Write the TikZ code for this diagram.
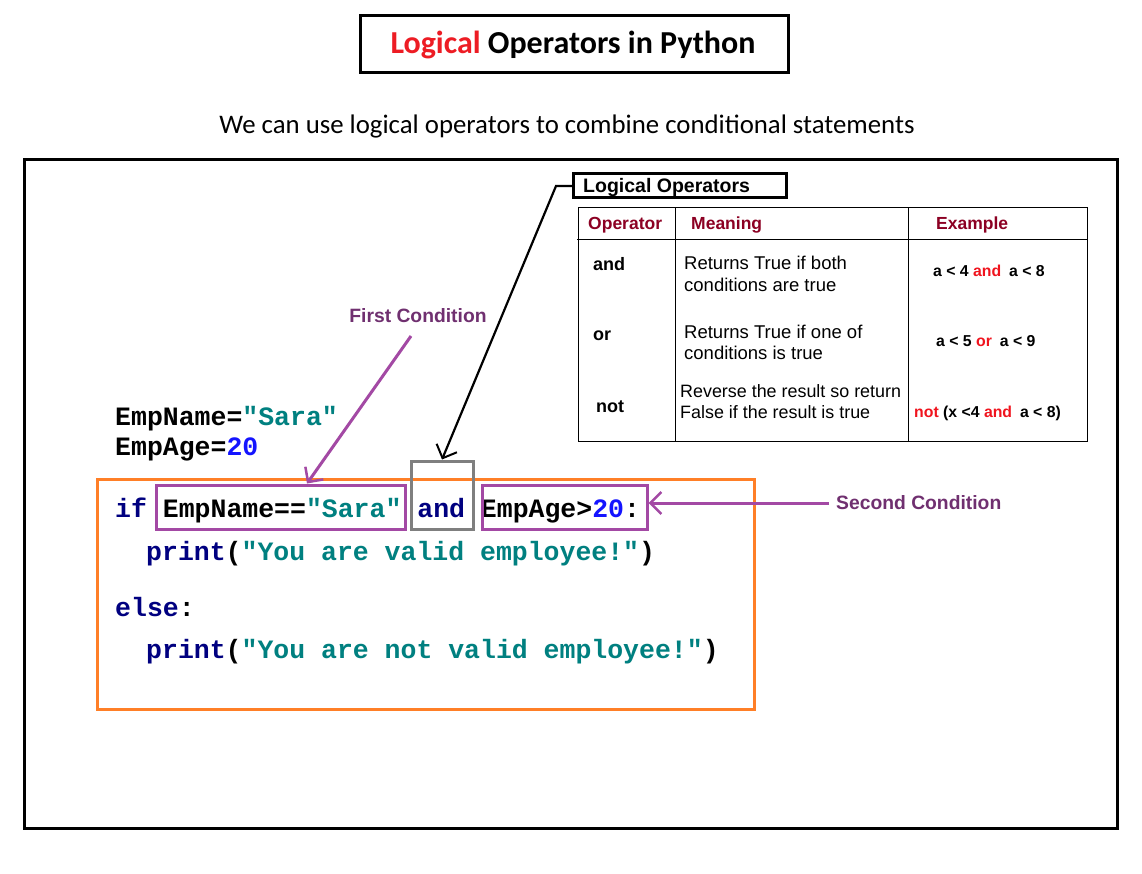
\documentclass[tikz,border=0pt]{standalone}
\usepackage{fontspec}
\setmainfont{Liberation Sans}
\newfontfamily\calibri{Carlito}
\newfontfamily\codefont{Liberation Mono}
\usetikzlibrary{arrows.meta}
\newcommand\fsz[1]{\fontsize{#1}{#1}\selectfont}
\definecolor{titlered}{RGB}{237,28,36}
\definecolor{tred}{RGB}{240,20,30}
\definecolor{hdrred}{RGB}{140,0,35}
\definecolor{purp}{RGB}{163,73,164}
\definecolor{purptext}{RGB}{112,48,112}
\definecolor{orng}{RGB}{255,127,39}
\definecolor{grayb}{RGB}{127,127,127}
\definecolor{navy}{RGB}{0,0,128}
\definecolor{tealc}{RGB}{0,128,128}
\definecolor{numblue}{RGB}{20,20,255}
\begin{document}
\begin{tikzpicture}[x=1pt,y=-1pt,
  txt/.style={inner sep=0pt, anchor=base west},
  code/.style={txt, font=\codefont\bfseries\fsz{26.5}},
  hdr/.style={txt, font=\bfseries\fsz{17.5}, text=hdrred},
  op/.style={txt, font=\bfseries\fsz{18}},
  mean/.style={txt, font=\fsz{18.5}},
  meansm/.style={txt, font=\fsz{17.9}},
  ex/.style={txt, font=\bfseries\fsz{15.8}},
  lbl/.style={inner sep=0pt, font=\bfseries\fsz{19.3}, text=purptext},
  cbox/.style={draw=purp, line width=3pt, inner sep=0pt},
  parr/.style={draw=purp, line width=3pt, -{Straight Barb[length=11pt,width=22pt,line width=2.5pt]}},
]
\useasboundingbox (0,0) rectangle (1142,874);
\fill[white] (0,0) rectangle (1142,874);

% title
\node[draw, line width=3pt, minimum width=428pt, minimum height=57pt, inner sep=0pt] (titlebox) at (574.5,44) {};
\node[txt, anchor=base, font=\calibri\bfseries\fsz{32}] (title) at (573,54) {\textcolor{titlered}{Logical} Operators in Python};
\node[txt, anchor=base, font=\calibri\fsz{26.8}] (subtitle) at (567,134) {We can use logical operators to combine conditional statements};

% outer frame
\draw[line width=3pt] (24,160) rectangle (1117,828);

% logical operators label
\node[draw, line width=3pt, minimum width=213pt, minimum height=24pt, inner sep=0pt] (lobox) at (680,186) {};
\node[txt, font=\bfseries\fsz{19.5}] (lo) at (583,193) {Logical Operators};

% table
\draw[line width=1pt] (578,208) rectangle (1087,441);
\draw[line width=1pt] (675,208) -- (675,441) (908,208) -- (908,441) (577,240) -- (1087,240);
\node[hdr] (h1) at (588,230) {Operator};
\node[hdr] (h2) at (691,230) {Meaning};
\node[hdr] (h3) at (936,230) {Example};

\node[op] (o1) at (593,271) {and};
\node[mean] (m1a) at (684,270) {Returns True if both};
\node[mean] (m1b) at (684,292) {conditions are true};
\node[ex] (e1) at (933,277) {a < 4 \textcolor{tred}{and}\enspace a < 8};

\node[op] (o2) at (593,340) {or};
\node[mean] (m2a) at (684,338) {Returns True if one of};
\node[mean] (m2b) at (684,359) {conditions is true};
\node[ex] (e2) at (936,346) {a < 5 \textcolor{tred}{or}\enspace a < 9};

\node[op] (o3) at (596,412) {not};
\node[meansm] (m3a) at (680,397) {Reverse the result so return};
\node[meansm] (m3b) at (680,418) {False if the result is true};
\node[ex] (e3) at (914,417) {\textcolor{tred}{not} (x <4 \textcolor{tred}{and}\enspace a < 8)};

% code
\node[code] (l1) at (115,425) {EmpName=\textcolor{tealc}{"Sara"}};
\node[code] (l2) at (115,455) {EmpAge=\textcolor{numblue}{20}};
\draw[draw=orng, line width=3pt] (97,479) rectangle (754,709);
\node[code] (l3) at (115,517) {\textcolor{navy}{if} EmpName==\textcolor{tealc}{"Sara"} \textcolor{navy}{and} EmpAge>\textcolor{numblue}{20}:};
\node[code] (l4) at (146,560) {\textcolor{navy}{print}(\textcolor{tealc}{"You are valid employee!"})};
\node[code] (l5) at (115,616) {\textcolor{navy}{else}:};
\node[code] (l6) at (146,658) {\textcolor{navy}{print}(\textcolor{tealc}{"You are not valid employee!"})};

\node[cbox, minimum width=249pt, minimum height=44pt] (c1) at (280.5,507) {};
\node[cbox, minimum width=165pt, minimum height=44pt] (c2) at (564.5,507) {};
\node[draw=grayb, line width=3pt, inner sep=0pt, minimum width=62pt, minimum height=68pt] (andbox) at (442,495) {};

% labels and arrows
\node[lbl] (fc) at (418,316) {First Condition};
\node[lbl, anchor=west] (sc) at (836,503) {Second Condition};
\coordinate (fcs) at (411,336);
\coordinate (fce) at ([xshift=26.5pt]c1.north);
\draw[parr] (fcs) -- (fce);
\draw[parr] (sc.west) ++(-7,0) -- (sc.west -| c2.east);

\coordinate (bend) at (556,186);
\draw[line width=2.2pt, -{Straight Barb[length=11pt,width=22pt,line width=2pt]}] (lobox.west) -- (bend) -- (andbox.north);
\end{tikzpicture}
\end{document}
